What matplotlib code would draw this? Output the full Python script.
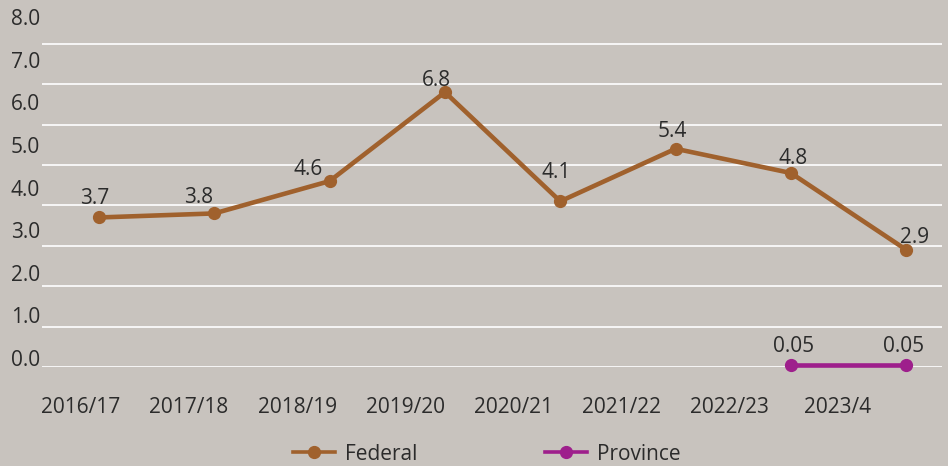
import matplotlib.pyplot as plt

plt.rcParams["font.family"] = ["Open Sans", "DejaVu Sans"]

years = ["2016/17", "2017/18", "2018/19", "2019/20", "2020/21", "2021/22", "2022/23", "2023/4"]
federal = [3.7, 3.8, 4.6, 6.8, 4.1, 5.4, 4.8, 2.9]
province_idx = [6, 7]
province = [0.05, 0.05]
y_ticks = [0, 1, 2, 3, 4, 5, 6, 7, 8]

# label offsets (pixels, to the text baseline) for the value annotations
fed_offsets = [(-4, 13), (-16, 10), (-21, 6), (-9, 6), (-4, 23), (-3, 12), (2, 9), (8, 7)]
prov_offsets = [(3, 13), (-3, 13)]

BG = "#c8c3be"
TXT = "#2b2b2b"
FED = "#a0612d"
PROV = "#9e1f8c"
FS = 15

fig = plt.figure(figsize=(9.48, 4.66), dpi=100, facecolor=BG)
ax = fig.add_axes([42 / 948, 99 / 466, 900 / 948, 352 / 466], facecolor=BG)

x = list(range(len(federal)))
ax.plot(x, federal, color=FED, lw=3.3, marker="o", ms=8.5, label="Federal",
        clip_on=False, zorder=3)
ax.plot(province_idx, province, color=PROV, lw=3.3, marker="o", ms=8.5,
        label="Province", clip_on=False, zorder=3)

for i, v in enumerate(federal):
    ax.annotate(f"{v}", (i, v), xytext=fed_offsets[i], textcoords="offset pixels",
                ha="center", va="baseline", fontsize=FS, color=TXT)
for j, (i, v) in enumerate(zip(province_idx, province)):
    ax.annotate(f"{v}", (i, v), xytext=prov_offsets[j], textcoords="offset pixels",
                ha="center", va="baseline", fontsize=FS, color=TXT)

ax.set_xlim(-0.494, 7.31)
ax.set_ylim(0, 8.71)
ax.set_yticks(y_ticks)
ax.set_xticks([])
ax.tick_params(axis="y", length=0, labelleft=False)
ax.grid(axis="y", color="white", lw=1.2)
ax.set_axisbelow(True)
for s in ax.spines.values():
    s.set_visible(False)

# axis labels sit slightly off the gridlines/points in the original
secy = ax.secondary_yaxis("left", functions=(lambda p: (40.4 * p - 9) / 42.6,
                                              lambda s: (42.6 * s + 9) / 40.4))
secy.set_yticks(y_ticks)
secy.set_yticklabels([f"{t:.1f}" for t in y_ticks])
secy.tick_params(length=0, pad=1.5, labelsize=FS, labelcolor=TXT)
secy.spines["left"].set_visible(False)

secx = ax.secondary_xaxis("bottom", functions=(lambda p: (115.3 * p + 18) / 108.1,
                                                lambda s: (108.1 * s - 18) / 115.3))
secx.set_xticks(range(len(years)))
secx.set_xticklabels(years)
secx.tick_params(length=0, pad=21.5, labelsize=FS, labelcolor=TXT)
secx.spines["bottom"].set_visible(False)

leg = fig.legend(loc="center", bbox_to_anchor=(487 / 948, 12 / 466), ncol=2, frameon=False,
                 fontsize=FS, labelcolor=TXT, handlelength=2.0, handletextpad=0.5,
                 columnspacing=6.1, borderpad=0)
for h in leg.legend_handles:
    h.set_linewidth(2.6)

fig.savefig("out.png", dpi=100, facecolor=BG)
